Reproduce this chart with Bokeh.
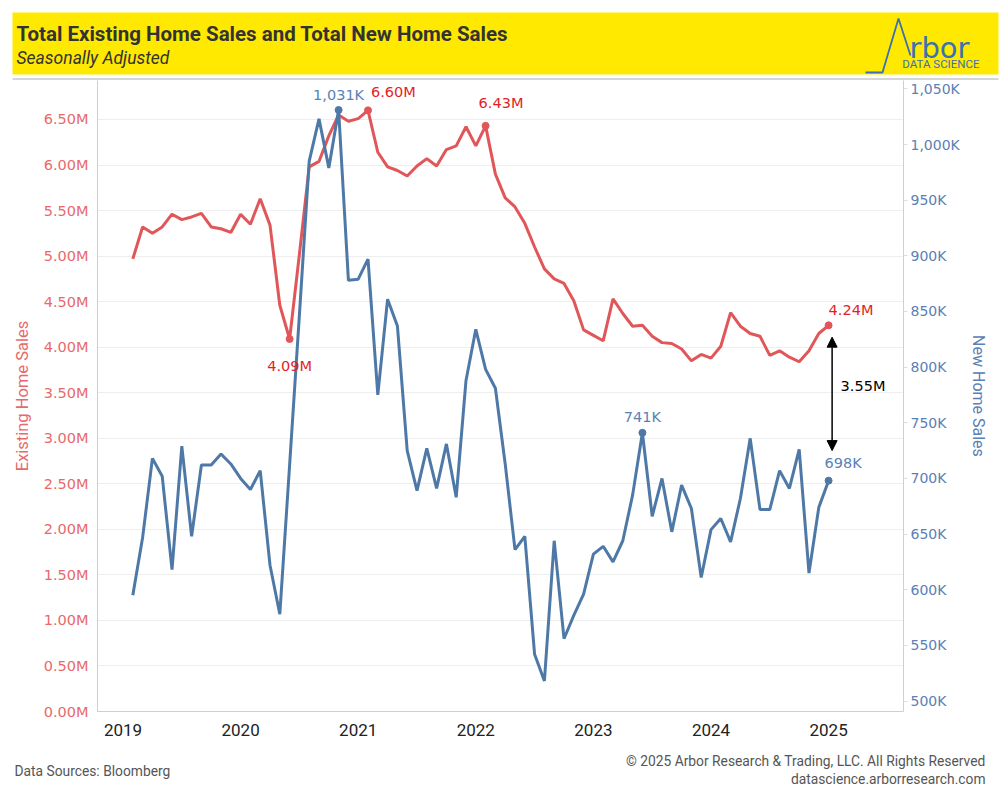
import pandas as pd
from bokeh.plotting import figure
from bokeh.models import (Range1d, LinearAxis, FixedTicker, PrintfTickFormatter,
                          Arrow, NormalHead, ColumnDataSource)
from bokeh.layouts import column
from bokeh.embed import file_html
from bokeh.resources import INLINE
from bokeh.core.properties import value

# ---------------- data ----------------
months = pd.date_range("2019-01-01", periods=72, freq="MS")

existing_m = [4.97, 5.32, 5.25, 5.32, 5.46, 5.40, 5.43, 5.47, 5.32, 5.30, 5.26, 5.46,
              5.35, 5.63, 5.34, 4.46, 4.09, 5.02, 5.98, 6.04, 6.32, 6.55, 6.48, 6.51,
              6.60, 6.14, 5.98, 5.94, 5.88, 5.99, 6.07, 5.99, 6.17, 6.21, 6.42, 6.21,
              6.43, 5.90, 5.64, 5.54, 5.36, 5.10, 4.86, 4.75, 4.70, 4.51, 4.19, 4.13,
              4.07, 4.53, 4.37, 4.23, 4.24, 4.12, 4.05, 4.04, 3.98, 3.85, 3.92, 3.88,
              4.01, 4.38, 4.23, 4.15, 4.12, 3.91, 3.96, 3.89, 3.84, 3.96, 4.15, 4.24]

new_k = [595, 647, 718, 702, 618, 729, 648, 712, 712, 722, 713, 700,
         690, 707, 622, 578, 712, 847, 985, 1023, 979, 1031, 878, 879,
         897, 775, 861, 837, 725, 689, 727, 691, 731, 683, 788, 834,
         798, 781, 713, 636, 648, 542, 518, 644, 556, 577, 596, 632,
         639, 625, 644, 685, 741, 666, 700, 652, 694, 673, 611, 654,
         664, 643, 682, 736, 672, 672, 707, 691, 726, 615, 674, 698]

year_ticks = [2019, 2020, 2021, 2022, 2023, 2024, 2025]
left_ticks = [0.0, 0.5, 1.0, 1.5, 2.0, 2.5, 3.0, 3.5, 4.0, 4.5, 5.0, 5.5, 6.0, 6.5]
right_ticks = [500, 550, 600, 650, 700, 750, 800, 850, 900, 950, 1000, 1050]

red_labels_idx = [16, 24, 36, 71]
red_labels_txt = ["4.09M", "6.60M", "6.43M", "4.24M"]
blue_labels_idx = [21, 52, 71]
blue_labels_txt = ["1,031K", "741K", "698K"]
gap_text = "3.55M"

title = "Total Existing Home Sales and Total New Home Sales"
subtitle = "Seasonally Adjusted"
source_txt = "Data Sources: Bloomberg"
copy_txt = "\u00a9 2025 Arbor Research & Trading, LLC. All Rights Reserved"
site_txt = "datascience.arborresearch.com"

# ---------------- styles ----------------
RED = "#E15759"
BLUE = "#4E79A7"
RED_TXT = "#E41E26"
BLUE_TXT = "#5A82B5"
RED_AX = "#E9696B"
BLUE_AX = "#5B80B5"
AXIS_GRAY = "#CFCFCF"
LOGO = "#3B6FB6"
W = 1000


def no_align(fig):
    try:
        fig.frame_align = False
    except Exception:
        pass


# month-end positions in fractional years
xs = list(months.year + months.month / 12.0)

# ---------------- header (page coordinates) ----------------
h = figure(width=W, height=80, x_range=Range1d(0, W), y_range=Range1d(80, 0),
           output_backend="svg", toolbar_location=None, min_border=0,
           x_axis_location=None, y_axis_location=None)
no_align(h)
h.grid.visible = False
h.outline_line_color = None
h.quad(left=12, right=998, top=12, bottom=74, fill_color="#FFE900", line_color=None)
h.segment(x0=12, y0=78.5, x1=998, y1=78.5, line_color="#D6D6D6", line_width=2)
h.segment(x0=[97, 903], y0=[78, 78], x1=[97, 903], y1=[80, 80], line_color="#D6D6D6", line_width=1)
h.text(x=[16], y=[33], text=[title], text_font=value("Roboto"), text_font_style="bold",
       text_font_size="20.5px", text_color="#333333", text_baseline="middle")
h.text(x=[16], y=[57], text=[subtitle], text_font=value("Roboto"), text_font_style="italic",
       text_font_size="17.5px", text_color="#333333", text_baseline="middle")
# logo
h.line(x=[865, 882, 898, 910], y=[72, 72, 18, 55], line_color=LOGO, line_width=1.8)
h.text(x=[909], y=[47], text=["rbor"], text_font=value("DejaVu Sans"), text_font_size="29px",
       text_color=LOGO, text_baseline="middle")
h.text(x=[979], y=[63], text=["DATA SCIENCE"], text_font=value("Roboto"), text_font_size="11.5px",
       text_color=LOGO, text_baseline="middle", text_align="right")

# ---------------- main plot ----------------
p = figure(width=W, height=665, x_range=Range1d(2018.783, 2025.637), y_range=Range1d(0, 6.928),
           output_backend="svg", toolbar_location=None,
           min_border_left=97, min_border_right=97, min_border_top=0, min_border_bottom=34)
no_align(p)
p.outline_line_color = None
p.extra_y_ranges = {"new": Range1d(490.6, 1057.5)}

p.xgrid.visible = False
p.ygrid.ticker = FixedTicker(ticks=left_ticks)
p.ygrid.grid_line_color = "#EEEEEE"

xa = p.xaxis[0]
xa.ticker = FixedTicker(ticks=year_ticks)
xa.formatter = PrintfTickFormatter(format="%d")
xa.axis_line_color = AXIS_GRAY
xa.major_tick_line_color = None
xa.minor_tick_line_color = None
xa.major_tick_out = 0
xa.minor_tick_out = 0
xa.major_label_standoff = 12
xa.major_label_text_font = "Roboto"
xa.major_label_text_font_size = "17px"
xa.major_label_text_color = "#222222"

la = p.yaxis[0]
la.ticker = FixedTicker(ticks=left_ticks)
la.formatter = PrintfTickFormatter(format="%.2fM")
la.axis_line_color = AXIS_GRAY
la.major_tick_line_color = None
la.minor_tick_line_color = None
la.major_tick_out = 0
la.minor_tick_out = 0
la.major_label_standoff = 9
la.major_label_text_font = "DejaVu Sans"
la.major_label_text_font_size = "14.5px"
la.major_label_text_color = RED_AX
la.axis_label = "Existing Home Sales"
la.axis_label_text_font = "Roboto"
la.axis_label_text_font_style = "normal"
la.axis_label_text_font_size = "16.5px"
la.axis_label_text_color = RED_AX
la.axis_label_standoff = 9

ra = LinearAxis(y_range_name="new", ticker=FixedTicker(ticks=right_ticks))
ra.major_label_overrides = {v: f"{v:,}K" for v in right_ticks}
ra.axis_line_color = AXIS_GRAY
ra.major_tick_line_color = "#DDDDDD"
ra.major_tick_out = 4
ra.major_tick_in = 0
ra.minor_tick_line_color = None
ra.minor_tick_out = 0
ra.major_label_standoff = 3
ra.major_label_text_font = "DejaVu Sans"
ra.major_label_text_font_size = "14px"
ra.major_label_text_color = BLUE_AX
ra.axis_label = "New Home Sales"
ra.axis_label_text_font = "Roboto"
ra.axis_label_text_font_style = "normal"
ra.axis_label_text_font_size = "16px"
ra.axis_label_text_color = BLUE_AX
ra.axis_label_standoff = 6
p.add_layout(ra, "right")

p.line(xs, existing_m, line_color=RED, line_width=3)
p.line(xs, new_k, line_color=BLUE, line_width=3, y_range_name="new")

red_src = ColumnDataSource(dict(
    x=[xs[i] for i in red_labels_idx], y=[existing_m[i] for i in red_labels_idx],
    t=red_labels_txt,
    dx=[0, 3, -7, 0], dy=[27, -18, -23, -15], al=["center", "left", "left", "left"]))
blue_src = ColumnDataSource(dict(
    x=[xs[i] for i in blue_labels_idx], y=[new_k[i] for i in blue_labels_idx],
    t=blue_labels_txt,
    dx=[0, 0, -4], dy=[-15, -16, -18], al=["center", "center", "left"]))

p.scatter("x", "y", source=red_src, size=7, color=RED)
p.scatter("x", "y", source=blue_src, size=7, color=BLUE, y_range_name="new")

p.text("x", "y", text="t", source=red_src, x_offset="dx", y_offset="dy", text_align="al",
       text_baseline="middle", text_font=value("DejaVu Sans"), text_font_size="14.5px",
       text_color=RED_TXT)
p.text("x", "y", text="t", source=blue_src, x_offset="dx", y_offset="dy", text_align="al",
       text_baseline="middle", text_font=value("DejaVu Sans"), text_font_size="14.5px",
       text_color=BLUE_TXT, y_range_name="new")

# gap arrow between last values (converted to left-axis units)
r0, r1 = p.extra_y_ranges["new"].start, p.extra_y_ranges["new"].end
L1 = p.y_range.end


def k_to_left(k):
    return (k - r0) / (r1 - r0) * L1


ax = xs[-1] + 0.03
ay_top = existing_m[-1] - 0.13
ay_bot = k_to_left(new_k[-1] + 27)
p.add_layout(Arrow(start=NormalHead(size=10, fill_color="black", line_color="black"),
                   end=NormalHead(size=10, fill_color="black", line_color="black"),
                   x_start=ax, y_start=ay_bot, x_end=ax, y_end=ay_top,
                   line_color="black", line_width=1.5))
p.text(x=[xs[-1]], y=[(ay_top + ay_bot) / 2 + 0.09], text=[gap_text], x_offset=12,
       text_align="left", text_baseline="middle", text_font=value("DejaVu Sans"),
       text_font_size="14.5px", text_color="black")

# ---------------- footer (page coordinates) ----------------
f = figure(width=W, height=47, x_range=Range1d(0, W), y_range=Range1d(792, 745),
           output_backend="svg", toolbar_location=None, min_border=0,
           x_axis_location=None, y_axis_location=None)
no_align(f)
f.grid.visible = False
f.outline_line_color = None
f.text(x=[14], y=[770], text=[source_txt], text_font=value("Roboto"), text_font_size="13.8px",
       text_color="#555555", text_baseline="middle")
f.text(x=[985, 985], y=[760, 778], text=[copy_txt, site_txt], text_font=value("Roboto"),
       text_font_size="13.8px", text_color="#555555", text_baseline="middle", text_align="right")

layout = column(h, p, f, spacing=0)
open("out.html", "w").write(file_html(layout, INLINE))
